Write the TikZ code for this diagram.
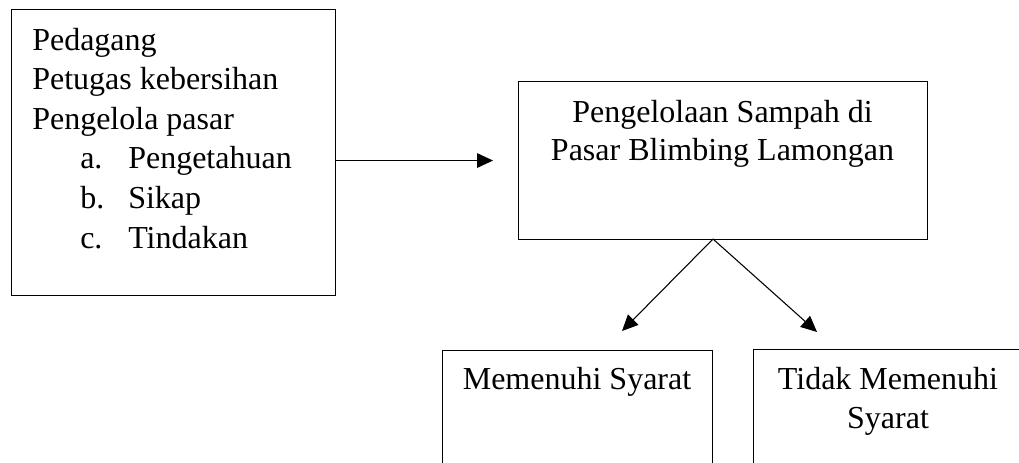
\documentclass[tikz,border=0pt]{standalone}
\usepackage{fontspec}
\setmainfont{Liberation Serif}
\usetikzlibrary{arrows.meta}
\begin{document}
\begin{tikzpicture}[x=0.75pt,y=-0.75pt,
  boxstyle/.style={draw, line width=0.8pt, inner sep=0pt, anchor=north west},
  txt/.style={anchor=base west, inner sep=0pt, font=\fontsize{24}{29}\selectfont},
  ctxt/.style={anchor=base, inner sep=0pt, font=\fontsize{24}{29}\selectfont},
  arr/.style={line width=0.8pt, -{Triangle[length=12pt,width=11pt]}}]
\clip (0,0) rectangle (1019,462);
% boxes
\node[boxstyle, minimum width=324*0.75pt, minimum height=286*0.75pt] (lb) at (11,9) {};
\node[boxstyle, minimum width=409*0.75pt, minimum height=158*0.75pt] (mb) at (518,81) {};
\node[boxstyle, minimum width=270*0.75pt, minimum height=200*0.75pt] (bl) at (442,350) {};
\node[boxstyle, minimum width=270*0.75pt, minimum height=200*0.75pt] (br) at (753,349) {};
% left box text
\node[txt] (t1) at (32,50) {Pedagang};
\node[txt] (t2) at (32,89) {Petugas kebersihan};
\node[txt] (t3) at (32,129) {Pengelola pasar};
\node[txt] (a1) at (80,168) {a.};
\node[txt] (a2) at (128,168) {Pengetahuan};
\node[txt] (b1) at (80,208) {b.};
\node[txt] (b2) at (128,208) {Sikap};
\node[txt] (c1) at (80,248) {c.};
\node[txt] (c2) at (128,248) {Tindakan};
% middle box text
\node[ctxt] (m1) at (722.5,122) {Pengelolaan Sampah di};
\node[ctxt] (m2) at (722.5,160) {Pasar Blimbing Lamongan};
% bottom texts
\node[ctxt] (s1) at (577,389) {Memenuhi Syarat};
\node[ctxt] (s2) at (888,389) {Tidak Memenuhi};
\node[ctxt] (s3) at (888,428) {Syarat};
% connectors
\coordinate (fork) at (713,239);
\coordinate (tipl) at (622,331);
\coordinate (tipr) at (817,332);
\draw[arr] (lb.east |- mb.west) -- ([xshift=-18.75pt]mb.west);
\draw[arr] (fork) -- (tipl);
\draw[arr] (fork) -- (tipr);
\end{tikzpicture}
\end{document}
